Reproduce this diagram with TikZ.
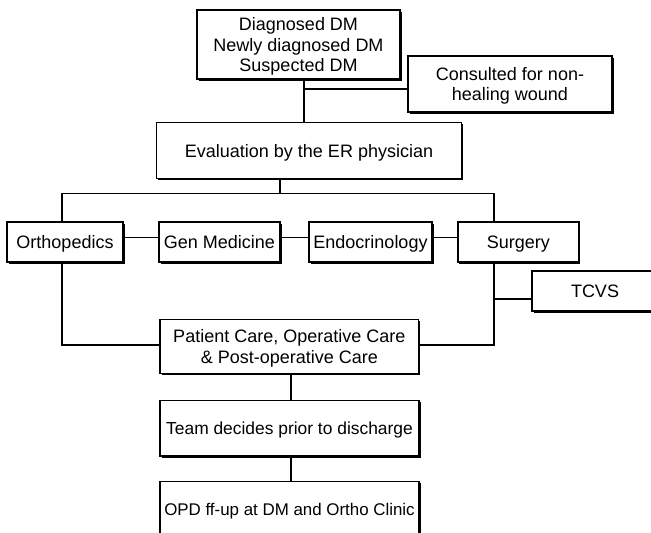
\documentclass[tikz,border=0pt]{standalone}
\usepackage{fontspec}
\setmainfont{Liberation Sans}
\usetikzlibrary{shadows}
\begin{document}
\begin{tikzpicture}[x=1pt,y=-1pt,
  box/.style={draw=black, line width=1.5pt, fill=white, rectangle, inner sep=0pt, align=center,
    font=\fontsize{18}{20.5}\selectfont,
    drop shadow={shadow xshift=1.6pt, shadow yshift=-1.6pt, fill=black, opacity=1}},
  oneline/.style={text height=14pt, text depth=1pt},
  multiline/.style={text depth=0pt},
  link/.style={draw=black, line width=1.4pt}]
\useasboundingbox (0,0) rectangle (651,533);
\fill[white] (0,0) rectangle (651,533);
% boxes
\node[box, multiline, minimum width=203pt, minimum height=69pt] (b1) at (298.5,44.5) {Diagnosed DM\\Newly diagnosed DM\\Suspected DM};
\node[box, multiline, minimum width=204pt, minimum height=56pt] (cons) at (510,84) {Consulted for non-\\healing wound};
\node[box, oneline, minimum width=305pt, minimum height=56pt] (ev) at (309,150.5) {Evaluation by the ER physician};
\node[box, oneline, minimum width=116pt, minimum height=40pt] (orth) at (65,242) {Orthopedics};
\node[box, oneline, minimum width=121pt, minimum height=40pt] (gen) at (219.5,242) {Gen Medicine};
\node[box, oneline, minimum width=123pt, minimum height=40pt] (endo) at (370.5,242) {Endocrinology};
\node[box, oneline, minimum width=121pt, minimum height=40pt] (surg) at (518.3,242) {Surgery};
\node[box, oneline, minimum width=126pt, minimum height=40pt] (tcvs) at (595,291) {TCVS};
\node[box, multiline, minimum width=258.5pt, minimum height=54pt] (pat) at (289.3,346.4) {Patient Care, Operative Care\\\& Post-operative Care};
\node[box, oneline, minimum width=259pt, minimum height=55.5pt, font=\fontsize{17.4}{20}\selectfont] (team) at (289.5,428.3) {Team decides prior to discharge};
\node[box, oneline, minimum width=259pt, minimum height=55.5pt, font=\fontsize{16.9}{20}\selectfont] (opd) at (289.5,509.3) {OPD ff-up at DM and Ortho Clinic};
% junction coordinates
\coordinate (j1) at (304,89);
\coordinate (j2) at (280,193.3);
\coordinate (jl) at (62,193.3);
\coordinate (jr) at (494,193.3);
\coordinate (jt) at (494,299);
\coordinate (jpl) at (62,345);
\coordinate (jpr) at (494,345);
\coordinate (jp) at (291,0);
\coordinate (jh) at (0,237.3);
% connectors
\draw[link] (b1.south -| j1) -- (ev.north -| j1);
\draw[link] (j1) -- (cons.west |- j1);
\draw[link] (ev.south -| j2) -- (j2);
\draw[link] (jl) -- (jr);
\draw[link] (jl) -- (orth.north -| jl);
\draw[link] (jr) -- (surg.north -| jr);
\draw[link] (orth.east |- jh) -- (gen.west |- jh);
\draw[link] (gen.east |- jh) -- (endo.west |- jh);
\draw[link] (endo.east |- jh) -- (surg.west |- jh);
\draw[link] (orth.south -| jpl) -- (jpl) -- (pat.west |- jpl);
\draw[link] (surg.south -| jpr) -- (jpr) -- (pat.east |- jpr);
\draw[link] (jt) -- (tcvs.west |- jt);
\draw[link] (pat.south -| jp) -- (team.north -| jp);
\draw[link] (team.south -| jp) -- (opd.north -| jp);
\end{tikzpicture}
\end{document}
